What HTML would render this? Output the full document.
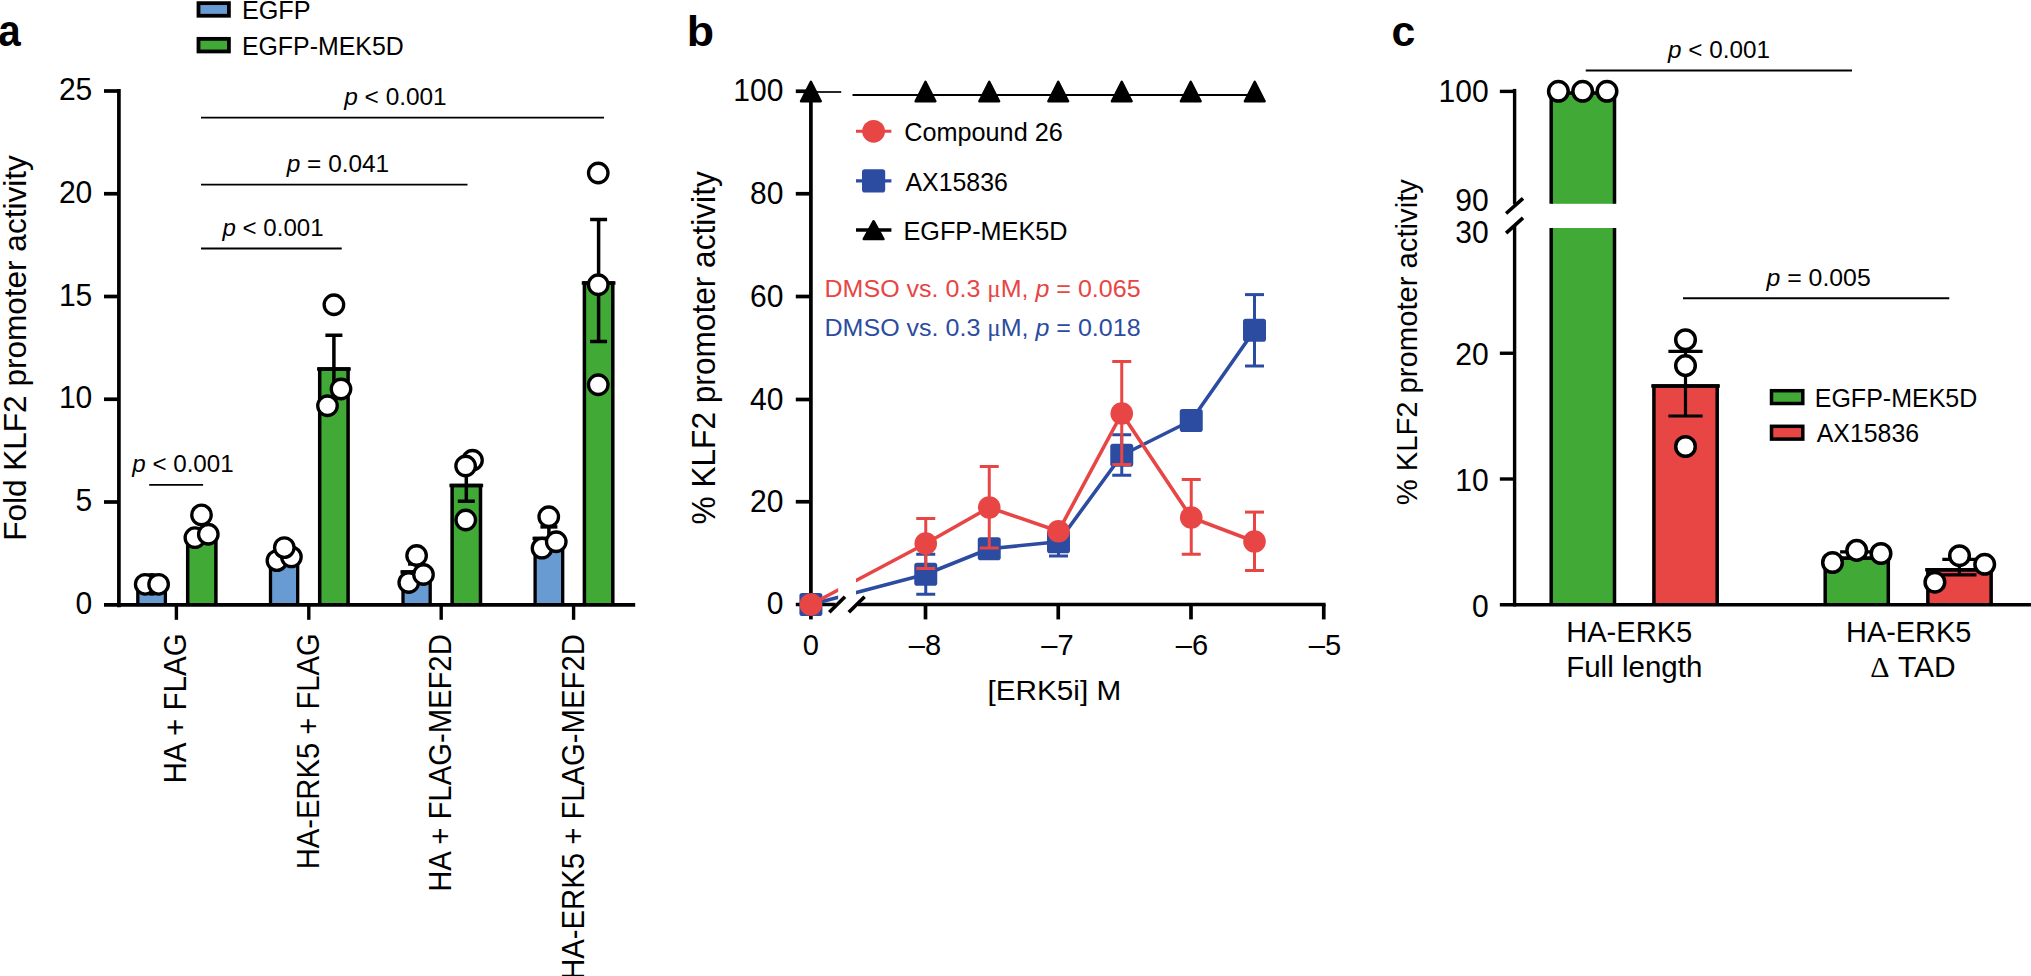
<!DOCTYPE html>
<html lang="en"><head><meta charset="utf-8"><title>Figure</title>
<style>html,body{margin:0;padding:0;background:#fff}body{width:2031px;height:976px;overflow:hidden}svg{display:block}text{font-family:"Liberation Sans",sans-serif}</style></head>
<body>
<svg width="2031" height="976" viewBox="0 0 2031 976" role="img" aria-label="KLF2 promoter activity figure, panels a to c">
<path d="M137.80,604.90 V584.00 H165.40 V604.90" fill="#689BD2" stroke="#000" stroke-width="3.3" stroke-linejoin="miter"/>
<line x1="135.25" y1="584.00" x2="167.95" y2="584.00" stroke="#000" stroke-width="3.3" stroke-linecap="butt"/>
<path d="M187.70,604.90 V535.00 H215.90 V604.90" fill="#41AA37" stroke="#000" stroke-width="3.5" stroke-linejoin="miter"/>
<line x1="185.05" y1="535.00" x2="218.55" y2="535.00" stroke="#000" stroke-width="3.5" stroke-linecap="butt"/>
<path d="M270.50,604.90 V555.00 H297.70 V604.90" fill="#689BD2" stroke="#000" stroke-width="3.3" stroke-linejoin="miter"/>
<line x1="267.95" y1="555.00" x2="300.25" y2="555.00" stroke="#000" stroke-width="3.3" stroke-linecap="butt"/>
<path d="M319.70,604.90 V369.00 H348.10 V604.90" fill="#41AA37" stroke="#000" stroke-width="3.5" stroke-linejoin="miter"/>
<line x1="317.05" y1="369.00" x2="350.75" y2="369.00" stroke="#000" stroke-width="3.5" stroke-linecap="butt"/>
<path d="M403.00,604.90 V572.00 H430.20 V604.90" fill="#689BD2" stroke="#000" stroke-width="3.3" stroke-linejoin="miter"/>
<line x1="400.45" y1="572.00" x2="432.75" y2="572.00" stroke="#000" stroke-width="3.3" stroke-linecap="butt"/>
<path d="M452.10,604.90 V485.40 H480.50 V604.90" fill="#41AA37" stroke="#000" stroke-width="3.5" stroke-linejoin="miter"/>
<line x1="449.45" y1="485.40" x2="483.15" y2="485.40" stroke="#000" stroke-width="3.5" stroke-linecap="butt"/>
<path d="M535.10,604.90 V538.30 H562.70 V604.90" fill="#689BD2" stroke="#000" stroke-width="3.3" stroke-linejoin="miter"/>
<line x1="532.55" y1="538.30" x2="565.25" y2="538.30" stroke="#000" stroke-width="3.3" stroke-linecap="butt"/>
<path d="M584.40,604.90 V283.00 H612.80 V604.90" fill="#41AA37" stroke="#000" stroke-width="3.5" stroke-linejoin="miter"/>
<line x1="581.75" y1="283.00" x2="615.45" y2="283.00" stroke="#000" stroke-width="3.5" stroke-linecap="butt"/>
<line x1="284.10" y1="551.00" x2="284.10" y2="559.00" stroke="#000" stroke-width="3.5" stroke-linecap="butt"/>
<line x1="275.60" y1="551.00" x2="292.60" y2="551.00" stroke="#000" stroke-width="3.5" stroke-linecap="butt"/>
<line x1="275.60" y1="559.00" x2="292.60" y2="559.00" stroke="#000" stroke-width="3.5" stroke-linecap="butt"/>
<line x1="333.90" y1="335.25" x2="333.90" y2="402.75" stroke="#000" stroke-width="3.5" stroke-linecap="butt"/>
<line x1="325.40" y1="335.25" x2="342.40" y2="335.25" stroke="#000" stroke-width="3.5" stroke-linecap="butt"/>
<line x1="416.60" y1="564.00" x2="416.60" y2="580.00" stroke="#000" stroke-width="3.5" stroke-linecap="butt"/>
<line x1="408.10" y1="564.00" x2="425.10" y2="564.00" stroke="#000" stroke-width="3.5" stroke-linecap="butt"/>
<line x1="408.10" y1="580.00" x2="425.10" y2="580.00" stroke="#000" stroke-width="3.5" stroke-linecap="butt"/>
<line x1="466.30" y1="469.60" x2="466.30" y2="501.20" stroke="#000" stroke-width="3.5" stroke-linecap="butt"/>
<line x1="457.80" y1="469.60" x2="474.80" y2="469.60" stroke="#000" stroke-width="3.5" stroke-linecap="butt"/>
<line x1="457.80" y1="501.20" x2="474.80" y2="501.20" stroke="#000" stroke-width="3.5" stroke-linecap="butt"/>
<line x1="548.90" y1="526.90" x2="548.90" y2="549.50" stroke="#000" stroke-width="3.5" stroke-linecap="butt"/>
<line x1="540.40" y1="526.90" x2="557.40" y2="526.90" stroke="#000" stroke-width="3.5" stroke-linecap="butt"/>
<line x1="540.40" y1="549.50" x2="557.40" y2="549.50" stroke="#000" stroke-width="3.5" stroke-linecap="butt"/>
<line x1="598.60" y1="219.50" x2="598.60" y2="341.50" stroke="#000" stroke-width="3.5" stroke-linecap="butt"/>
<line x1="590.10" y1="219.50" x2="607.10" y2="219.50" stroke="#000" stroke-width="3.5" stroke-linecap="butt"/>
<line x1="590.10" y1="341.50" x2="607.10" y2="341.50" stroke="#000" stroke-width="3.5" stroke-linecap="butt"/>
<line x1="118.90" y1="89.10" x2="118.90" y2="607.35" stroke="#000" stroke-width="3.7" stroke-linecap="butt"/>
<line x1="104.00" y1="604.90" x2="635.20" y2="604.90" stroke="#000" stroke-width="3.7" stroke-linecap="butt"/>
<line x1="104.00" y1="91.00" x2="119.00" y2="91.00" stroke="#000" stroke-width="3.7" stroke-linecap="butt"/>
<line x1="104.00" y1="193.75" x2="119.00" y2="193.75" stroke="#000" stroke-width="3.7" stroke-linecap="butt"/>
<line x1="104.00" y1="296.50" x2="119.00" y2="296.50" stroke="#000" stroke-width="3.7" stroke-linecap="butt"/>
<line x1="104.00" y1="399.25" x2="119.00" y2="399.25" stroke="#000" stroke-width="3.7" stroke-linecap="butt"/>
<line x1="104.00" y1="502.00" x2="119.00" y2="502.00" stroke="#000" stroke-width="3.7" stroke-linecap="butt"/>
<line x1="176.40" y1="604.90" x2="176.40" y2="619.80" stroke="#000" stroke-width="3.4" stroke-linecap="butt"/>
<line x1="308.80" y1="604.90" x2="308.80" y2="619.80" stroke="#000" stroke-width="3.4" stroke-linecap="butt"/>
<line x1="441.20" y1="604.90" x2="441.20" y2="619.80" stroke="#000" stroke-width="3.4" stroke-linecap="butt"/>
<line x1="573.60" y1="604.90" x2="573.60" y2="619.80" stroke="#000" stroke-width="3.4" stroke-linecap="butt"/>
<circle cx="151.90" cy="584.30" r="9.75" fill="#fff" stroke="#000" stroke-width="3.3"/>
<circle cx="145.20" cy="584.30" r="9.75" fill="#fff" stroke="#000" stroke-width="3.3"/>
<circle cx="158.60" cy="584.30" r="9.75" fill="#fff" stroke="#000" stroke-width="3.3"/>
<circle cx="201.50" cy="514.90" r="9.75" fill="#fff" stroke="#000" stroke-width="3.3"/>
<circle cx="194.90" cy="537.70" r="9.75" fill="#fff" stroke="#000" stroke-width="3.3"/>
<circle cx="208.30" cy="534.25" r="9.75" fill="#fff" stroke="#000" stroke-width="3.3"/>
<circle cx="276.90" cy="560.60" r="9.75" fill="#fff" stroke="#000" stroke-width="3.3"/>
<circle cx="291.40" cy="556.90" r="9.75" fill="#fff" stroke="#000" stroke-width="3.3"/>
<circle cx="284.30" cy="547.60" r="9.75" fill="#fff" stroke="#000" stroke-width="3.3"/>
<circle cx="333.90" cy="304.75" r="9.75" fill="#fff" stroke="#000" stroke-width="3.3"/>
<circle cx="341.00" cy="389.00" r="9.75" fill="#fff" stroke="#000" stroke-width="3.3"/>
<circle cx="327.50" cy="405.75" r="9.75" fill="#fff" stroke="#000" stroke-width="3.3"/>
<circle cx="416.60" cy="555.50" r="9.75" fill="#fff" stroke="#000" stroke-width="3.3"/>
<circle cx="408.75" cy="582.50" r="9.75" fill="#fff" stroke="#000" stroke-width="3.3"/>
<circle cx="423.50" cy="574.50" r="9.75" fill="#fff" stroke="#000" stroke-width="3.3"/>
<circle cx="472.50" cy="460.25" r="9.75" fill="#fff" stroke="#000" stroke-width="3.3"/>
<circle cx="465.60" cy="466.00" r="9.75" fill="#fff" stroke="#000" stroke-width="3.3"/>
<circle cx="465.75" cy="520.00" r="9.75" fill="#fff" stroke="#000" stroke-width="3.3"/>
<circle cx="548.75" cy="516.75" r="9.75" fill="#fff" stroke="#000" stroke-width="3.3"/>
<circle cx="542.00" cy="548.20" r="9.75" fill="#fff" stroke="#000" stroke-width="3.3"/>
<circle cx="556.25" cy="541.75" r="9.75" fill="#fff" stroke="#000" stroke-width="3.3"/>
<circle cx="598.25" cy="173.00" r="9.75" fill="#fff" stroke="#000" stroke-width="3.3"/>
<circle cx="598.25" cy="284.75" r="9.75" fill="#fff" stroke="#000" stroke-width="3.3"/>
<circle cx="598.25" cy="384.75" r="9.75" fill="#fff" stroke="#000" stroke-width="3.3"/>
<line x1="201.00" y1="117.60" x2="604.00" y2="117.60" stroke="#000" stroke-width="1.9" stroke-linecap="butt"/>
<line x1="201.00" y1="184.60" x2="467.50" y2="184.60" stroke="#000" stroke-width="1.9" stroke-linecap="butt"/>
<line x1="201.00" y1="248.50" x2="341.75" y2="248.50" stroke="#000" stroke-width="1.9" stroke-linecap="butt"/>
<line x1="149.20" y1="484.90" x2="203.10" y2="484.90" stroke="#000" stroke-width="1.9" stroke-linecap="butt"/>
<rect x="198.50" y="3.15" width="30.40" height="12.60" fill="#689BD2" stroke="#000" stroke-width="3.8" rx="0"/>
<rect x="198.50" y="38.85" width="30.40" height="12.60" fill="#41AA37" stroke="#000" stroke-width="3.8" rx="0"/>
<line x1="810.90" y1="92.00" x2="841.25" y2="92.00" stroke="#000" stroke-width="1.7" stroke-linecap="butt"/>
<line x1="852.50" y1="95.00" x2="1254.75" y2="95.00" stroke="#000" stroke-width="2.1" stroke-linecap="butt"/>
<clipPath id="gapclip"><rect x="0" y="0" width="838.15" height="976"/><rect x="856" y="0" width="1200" height="976"/></clipPath>
<line x1="810.90" y1="89.40" x2="810.90" y2="606.35" stroke="#000" stroke-width="3.7" stroke-linecap="butt"/>
<line x1="795.80" y1="91.25" x2="810.90" y2="91.25" stroke="#000" stroke-width="3.7" stroke-linecap="butt"/>
<line x1="795.80" y1="193.75" x2="810.90" y2="193.75" stroke="#000" stroke-width="3.7" stroke-linecap="butt"/>
<line x1="795.80" y1="296.50" x2="810.90" y2="296.50" stroke="#000" stroke-width="3.7" stroke-linecap="butt"/>
<line x1="795.80" y1="399.50" x2="810.90" y2="399.50" stroke="#000" stroke-width="3.7" stroke-linecap="butt"/>
<line x1="795.80" y1="501.75" x2="810.90" y2="501.75" stroke="#000" stroke-width="3.7" stroke-linecap="butt"/>
<line x1="795.80" y1="604.50" x2="835.60" y2="604.50" stroke="#000" stroke-width="3.7" stroke-linecap="butt"/>
<line x1="858.00" y1="604.50" x2="1325.60" y2="604.50" stroke="#000" stroke-width="3.7" stroke-linecap="butt"/>
<line x1="810.90" y1="604.50" x2="810.90" y2="619.40" stroke="#000" stroke-width="3.7" stroke-linecap="butt"/>
<line x1="925.50" y1="604.50" x2="925.50" y2="619.40" stroke="#000" stroke-width="3.7" stroke-linecap="butt"/>
<line x1="1058.25" y1="604.50" x2="1058.25" y2="619.40" stroke="#000" stroke-width="3.7" stroke-linecap="butt"/>
<line x1="1191.00" y1="604.50" x2="1191.00" y2="619.40" stroke="#000" stroke-width="3.7" stroke-linecap="butt"/>
<line x1="1323.75" y1="604.50" x2="1323.75" y2="619.40" stroke="#000" stroke-width="3.7" stroke-linecap="butt"/>
<line x1="829.30" y1="612.30" x2="845.00" y2="596.70" stroke="#000" stroke-width="3.7" stroke-linecap="butt"/>
<line x1="848.80" y1="612.30" x2="864.60" y2="596.70" stroke="#000" stroke-width="3.7" stroke-linecap="butt"/>
<polygon points="810.90,81.70 820.80,101.20 801.00,101.20" fill="#000" stroke="#000" stroke-width="2.4" stroke-linejoin="round"/>
<polygon points="925.50,81.70 935.40,101.20 915.60,101.20" fill="#000" stroke="#000" stroke-width="2.4" stroke-linejoin="round"/>
<polygon points="989.25,81.70 999.15,101.20 979.35,101.20" fill="#000" stroke="#000" stroke-width="2.4" stroke-linejoin="round"/>
<polygon points="1058.25,81.70 1068.15,101.20 1048.35,101.20" fill="#000" stroke="#000" stroke-width="2.4" stroke-linejoin="round"/>
<polygon points="1121.75,81.70 1131.65,101.20 1111.85,101.20" fill="#000" stroke="#000" stroke-width="2.4" stroke-linejoin="round"/>
<polygon points="1190.75,81.70 1200.65,101.20 1180.85,101.20" fill="#000" stroke="#000" stroke-width="2.4" stroke-linejoin="round"/>
<polygon points="1254.75,81.70 1264.65,101.20 1244.85,101.20" fill="#000" stroke="#000" stroke-width="2.4" stroke-linejoin="round"/>
<line x1="925.75" y1="554.25" x2="925.75" y2="594.25" stroke="#2B4CA0" stroke-width="3.0" stroke-linecap="butt"/>
<line x1="916.25" y1="554.25" x2="935.25" y2="554.25" stroke="#2B4CA0" stroke-width="3.0" stroke-linecap="butt"/>
<line x1="916.25" y1="594.25" x2="935.25" y2="594.25" stroke="#2B4CA0" stroke-width="3.0" stroke-linecap="butt"/>
<line x1="989.25" y1="543.00" x2="989.25" y2="554.50" stroke="#2B4CA0" stroke-width="3.0" stroke-linecap="butt"/>
<line x1="979.75" y1="543.00" x2="998.75" y2="543.00" stroke="#2B4CA0" stroke-width="3.0" stroke-linecap="butt"/>
<line x1="979.75" y1="554.50" x2="998.75" y2="554.50" stroke="#2B4CA0" stroke-width="3.0" stroke-linecap="butt"/>
<line x1="1058.50" y1="527.50" x2="1058.50" y2="556.00" stroke="#2B4CA0" stroke-width="3.0" stroke-linecap="butt"/>
<line x1="1049.00" y1="527.50" x2="1068.00" y2="527.50" stroke="#2B4CA0" stroke-width="3.0" stroke-linecap="butt"/>
<line x1="1049.00" y1="556.00" x2="1068.00" y2="556.00" stroke="#2B4CA0" stroke-width="3.0" stroke-linecap="butt"/>
<line x1="1121.75" y1="434.75" x2="1121.75" y2="475.25" stroke="#2B4CA0" stroke-width="3.0" stroke-linecap="butt"/>
<line x1="1112.25" y1="434.75" x2="1131.25" y2="434.75" stroke="#2B4CA0" stroke-width="3.0" stroke-linecap="butt"/>
<line x1="1112.25" y1="475.25" x2="1131.25" y2="475.25" stroke="#2B4CA0" stroke-width="3.0" stroke-linecap="butt"/>
<line x1="1191.25" y1="414.00" x2="1191.25" y2="427.00" stroke="#2B4CA0" stroke-width="3.0" stroke-linecap="butt"/>
<line x1="1181.75" y1="414.00" x2="1200.75" y2="414.00" stroke="#2B4CA0" stroke-width="3.0" stroke-linecap="butt"/>
<line x1="1181.75" y1="427.00" x2="1200.75" y2="427.00" stroke="#2B4CA0" stroke-width="3.0" stroke-linecap="butt"/>
<line x1="1254.50" y1="294.60" x2="1254.50" y2="366.00" stroke="#2B4CA0" stroke-width="3.0" stroke-linecap="butt"/>
<line x1="1245.00" y1="294.60" x2="1264.00" y2="294.60" stroke="#2B4CA0" stroke-width="3.0" stroke-linecap="butt"/>
<line x1="1245.00" y1="366.00" x2="1264.00" y2="366.00" stroke="#2B4CA0" stroke-width="3.0" stroke-linecap="butt"/>
<polyline clip-path="url(#gapclip)" points="810.90,604.50 925.75,574.25 989.25,548.75 1058.50,541.75 1121.75,455.25 1191.25,420.50 1254.50,330.25" fill="none" stroke="#2B4CA0" stroke-width="3.6" stroke-linejoin="round"/>
<rect x="799.40" y="593.00" width="23.00" height="23.00" fill="#2B4CA0" rx="2.8"/>
<rect x="914.25" y="562.75" width="23.00" height="23.00" fill="#2B4CA0" rx="2.8"/>
<rect x="977.75" y="537.25" width="23.00" height="23.00" fill="#2B4CA0" rx="2.8"/>
<rect x="1047.00" y="530.25" width="23.00" height="23.00" fill="#2B4CA0" rx="2.8"/>
<rect x="1110.25" y="443.75" width="23.00" height="23.00" fill="#2B4CA0" rx="2.8"/>
<rect x="1179.75" y="409.00" width="23.00" height="23.00" fill="#2B4CA0" rx="2.8"/>
<rect x="1243.00" y="318.75" width="23.00" height="23.00" fill="#2B4CA0" rx="2.8"/>
<line x1="925.75" y1="518.50" x2="925.75" y2="568.50" stroke="#E84545" stroke-width="3.0" stroke-linecap="butt"/>
<line x1="916.25" y1="518.50" x2="935.25" y2="518.50" stroke="#E84545" stroke-width="3.0" stroke-linecap="butt"/>
<line x1="916.25" y1="568.50" x2="935.25" y2="568.50" stroke="#E84545" stroke-width="3.0" stroke-linecap="butt"/>
<line x1="989.25" y1="466.50" x2="989.25" y2="548.00" stroke="#E84545" stroke-width="3.0" stroke-linecap="butt"/>
<line x1="979.75" y1="466.50" x2="998.75" y2="466.50" stroke="#E84545" stroke-width="3.0" stroke-linecap="butt"/>
<line x1="979.75" y1="548.00" x2="998.75" y2="548.00" stroke="#E84545" stroke-width="3.0" stroke-linecap="butt"/>
<line x1="1058.50" y1="527.00" x2="1058.50" y2="535.50" stroke="#E84545" stroke-width="3.0" stroke-linecap="butt"/>
<line x1="1049.00" y1="527.00" x2="1068.00" y2="527.00" stroke="#E84545" stroke-width="3.0" stroke-linecap="butt"/>
<line x1="1049.00" y1="535.50" x2="1068.00" y2="535.50" stroke="#E84545" stroke-width="3.0" stroke-linecap="butt"/>
<line x1="1121.75" y1="361.50" x2="1121.75" y2="464.50" stroke="#E84545" stroke-width="3.0" stroke-linecap="butt"/>
<line x1="1112.25" y1="361.50" x2="1131.25" y2="361.50" stroke="#E84545" stroke-width="3.0" stroke-linecap="butt"/>
<line x1="1112.25" y1="464.50" x2="1131.25" y2="464.50" stroke="#E84545" stroke-width="3.0" stroke-linecap="butt"/>
<line x1="1191.25" y1="479.50" x2="1191.25" y2="554.25" stroke="#E84545" stroke-width="3.0" stroke-linecap="butt"/>
<line x1="1181.75" y1="479.50" x2="1200.75" y2="479.50" stroke="#E84545" stroke-width="3.0" stroke-linecap="butt"/>
<line x1="1181.75" y1="554.25" x2="1200.75" y2="554.25" stroke="#E84545" stroke-width="3.0" stroke-linecap="butt"/>
<line x1="1254.50" y1="512.10" x2="1254.50" y2="570.50" stroke="#E84545" stroke-width="3.0" stroke-linecap="butt"/>
<line x1="1245.00" y1="512.10" x2="1264.00" y2="512.10" stroke="#E84545" stroke-width="3.0" stroke-linecap="butt"/>
<line x1="1245.00" y1="570.50" x2="1264.00" y2="570.50" stroke="#E84545" stroke-width="3.0" stroke-linecap="butt"/>
<polyline clip-path="url(#gapclip)" points="810.90,604.50 925.75,543.50 989.25,507.50 1058.50,531.25 1121.75,413.50 1191.25,517.50 1254.50,541.50" fill="none" stroke="#E84545" stroke-width="3.6" stroke-linejoin="round"/>
<circle cx="810.90" cy="604.50" r="11.30" fill="#E84545"/>
<circle cx="925.75" cy="543.50" r="11.30" fill="#E84545"/>
<circle cx="989.25" cy="507.50" r="11.30" fill="#E84545"/>
<circle cx="1058.50" cy="531.25" r="11.30" fill="#E84545"/>
<circle cx="1121.75" cy="413.50" r="11.30" fill="#E84545"/>
<circle cx="1191.25" cy="517.50" r="11.30" fill="#E84545"/>
<circle cx="1254.50" cy="541.50" r="11.30" fill="#E84545"/>
<line x1="856.00" y1="131.30" x2="891.40" y2="131.30" stroke="#E84545" stroke-width="3.1" stroke-linecap="butt"/>
<circle cx="873.60" cy="131.30" r="11.40" fill="#E84545"/>
<line x1="856.00" y1="180.90" x2="891.40" y2="180.90" stroke="#2B4CA0" stroke-width="3.1" stroke-linecap="butt"/>
<rect x="862.00" y="169.30" width="23.20" height="23.20" fill="#2B4CA0" rx="2.8"/>
<line x1="856.00" y1="230.00" x2="891.40" y2="230.00" stroke="#000" stroke-width="3.7" stroke-linecap="butt"/>
<polygon points="873.60,221.20 883.50,239.10 863.70,239.10" fill="#000" stroke="#000" stroke-width="2.4" stroke-linejoin="round"/>
<rect x="1551.2" y="93.0" width="63.3" height="110.80" fill="#41AA37"/>
<path d="M1551.2,203.8 V93.0 H1614.5 V203.8" fill="none" stroke="#000" stroke-width="3.5"/>
<rect x="1551.2" y="228" width="63.3" height="376.80" fill="#41AA37"/>
<path d="M1551.2,604.8 V228.0 M1614.5,228.0 V604.8" fill="none" stroke="#000" stroke-width="3.5"/>
<path d="M1653.90,604.80 V386.00 H1717.20 V604.80" fill="#E84545" stroke="#000" stroke-width="3.5" stroke-linejoin="miter"/>
<line x1="1651.25" y1="386.00" x2="1719.85" y2="386.00" stroke="#000" stroke-width="3.5" stroke-linecap="butt"/>
<path d="M1825.20,604.80 V558.30 H1888.30 V604.80" fill="#41AA37" stroke="#000" stroke-width="3.5" stroke-linejoin="miter"/>
<line x1="1822.55" y1="558.30" x2="1890.95" y2="558.30" stroke="#000" stroke-width="3.5" stroke-linecap="butt"/>
<path d="M1927.85,604.80 V569.85 H1991.15 V604.80" fill="#E84545" stroke="#000" stroke-width="3.5" stroke-linejoin="miter"/>
<line x1="1925.20" y1="569.85" x2="1993.80" y2="569.85" stroke="#000" stroke-width="3.5" stroke-linecap="butt"/>
<line x1="1685.50" y1="351.40" x2="1685.50" y2="416.00" stroke="#000" stroke-width="3.2" stroke-linecap="butt"/>
<line x1="1668.40" y1="351.40" x2="1702.60" y2="351.40" stroke="#000" stroke-width="3.2" stroke-linecap="butt"/>
<line x1="1668.40" y1="416.00" x2="1702.60" y2="416.00" stroke="#000" stroke-width="3.2" stroke-linecap="butt"/>
<line x1="1857.20" y1="551.80" x2="1857.20" y2="558.30" stroke="#000" stroke-width="3.2" stroke-linecap="butt"/>
<line x1="1840.10" y1="551.80" x2="1874.30" y2="551.80" stroke="#000" stroke-width="3.2" stroke-linecap="butt"/>
<line x1="1959.40" y1="559.40" x2="1959.40" y2="574.80" stroke="#000" stroke-width="3.2" stroke-linecap="butt"/>
<line x1="1942.30" y1="559.40" x2="1976.50" y2="559.40" stroke="#000" stroke-width="3.2" stroke-linecap="butt"/>
<line x1="1942.30" y1="574.80" x2="1976.50" y2="574.80" stroke="#000" stroke-width="3.2" stroke-linecap="butt"/>
<line x1="1514.60" y1="88.90" x2="1514.60" y2="204.30" stroke="#000" stroke-width="3.4" stroke-linecap="butt"/>
<line x1="1514.60" y1="226.00" x2="1514.60" y2="606.50" stroke="#000" stroke-width="3.4" stroke-linecap="butt"/>
<line x1="1499.85" y1="91.40" x2="1514.60" y2="91.40" stroke="#000" stroke-width="3.4" stroke-linecap="butt"/>
<line x1="1499.85" y1="353.25" x2="1514.60" y2="353.25" stroke="#000" stroke-width="3.4" stroke-linecap="butt"/>
<line x1="1499.85" y1="479.00" x2="1514.60" y2="479.00" stroke="#000" stroke-width="3.4" stroke-linecap="butt"/>
<line x1="1499.85" y1="604.80" x2="2031.00" y2="604.80" stroke="#000" stroke-width="3.4" stroke-linecap="butt"/>
<line x1="1506.10" y1="213.50" x2="1523.00" y2="198.30" stroke="#000" stroke-width="3.6" stroke-linecap="butt"/>
<line x1="1506.10" y1="233.20" x2="1523.00" y2="217.90" stroke="#000" stroke-width="3.6" stroke-linecap="butt"/>
<circle cx="1558.40" cy="91.30" r="9.80" fill="#fff" stroke="#000" stroke-width="3.5"/>
<circle cx="1582.65" cy="91.30" r="9.80" fill="#fff" stroke="#000" stroke-width="3.5"/>
<circle cx="1607.00" cy="91.30" r="9.80" fill="#fff" stroke="#000" stroke-width="3.5"/>
<circle cx="1685.50" cy="339.70" r="9.80" fill="#fff" stroke="#000" stroke-width="3.5"/>
<circle cx="1685.50" cy="365.60" r="9.80" fill="#fff" stroke="#000" stroke-width="3.5"/>
<circle cx="1685.50" cy="446.50" r="9.80" fill="#fff" stroke="#000" stroke-width="3.5"/>
<circle cx="1832.50" cy="562.50" r="9.80" fill="#fff" stroke="#000" stroke-width="3.5"/>
<circle cx="1856.70" cy="550.40" r="9.80" fill="#fff" stroke="#000" stroke-width="3.5"/>
<circle cx="1881.00" cy="553.50" r="9.80" fill="#fff" stroke="#000" stroke-width="3.5"/>
<circle cx="1934.90" cy="582.20" r="9.80" fill="#fff" stroke="#000" stroke-width="3.5"/>
<circle cx="1959.50" cy="555.70" r="9.80" fill="#fff" stroke="#000" stroke-width="3.5"/>
<circle cx="1984.70" cy="564.30" r="9.80" fill="#fff" stroke="#000" stroke-width="3.5"/>
<line x1="1585.75" y1="70.50" x2="1852.00" y2="70.50" stroke="#000" stroke-width="1.9" stroke-linecap="butt"/>
<line x1="1683.00" y1="298.30" x2="1949.25" y2="298.30" stroke="#000" stroke-width="1.9" stroke-linecap="butt"/>
<rect x="1771.50" y="390.70" width="31.30" height="12.80" fill="#41AA37" stroke="#000" stroke-width="3.5" rx="0"/>
<rect x="1771.50" y="426.30" width="31.30" height="12.80" fill="#E84545" stroke="#000" stroke-width="3.5" rx="0"/>
<text transform="translate(-1.71,46.30) scale(0.9282,1)" font-size="43.50" fill="#000" xml:space="preserve" style="white-space:pre"><tspan font-family='"Liberation Sans", sans-serif' font-weight="bold" font-style="normal">a</tspan></text>
<text transform="translate(241.88,18.80) scale(0.9902,1)" font-size="25.50" fill="#000" xml:space="preserve" style="white-space:pre"><tspan font-family='"Liberation Sans", sans-serif' font-weight="normal" font-style="normal">EGFP</tspan></text>
<text transform="translate(241.91,54.90) scale(0.9764,1)" font-size="25.50" fill="#000" xml:space="preserve" style="white-space:pre"><tspan font-family='"Liberation Sans", sans-serif' font-weight="normal" font-style="normal">EGFP-MEK5D</tspan></text>
<text transform="translate(92.30,100.00) scale(0.9820,1)" text-anchor="end" font-size="30.60" fill="#000" xml:space="preserve" style="white-space:pre"><tspan font-family='"Liberation Sans", sans-serif' font-weight="normal" font-style="normal">25</tspan></text>
<text transform="translate(92.30,202.75) scale(0.9820,1)" text-anchor="end" font-size="30.60" fill="#000" xml:space="preserve" style="white-space:pre"><tspan font-family='"Liberation Sans", sans-serif' font-weight="normal" font-style="normal">20</tspan></text>
<text transform="translate(92.30,305.50) scale(0.9820,1)" text-anchor="end" font-size="30.60" fill="#000" xml:space="preserve" style="white-space:pre"><tspan font-family='"Liberation Sans", sans-serif' font-weight="normal" font-style="normal">15</tspan></text>
<text transform="translate(92.30,408.25) scale(0.9820,1)" text-anchor="end" font-size="30.60" fill="#000" xml:space="preserve" style="white-space:pre"><tspan font-family='"Liberation Sans", sans-serif' font-weight="normal" font-style="normal">10</tspan></text>
<text transform="translate(92.30,511.00) scale(0.9820,1)" text-anchor="end" font-size="30.60" fill="#000" xml:space="preserve" style="white-space:pre"><tspan font-family='"Liberation Sans", sans-serif' font-weight="normal" font-style="normal">5</tspan></text>
<text transform="translate(92.30,613.50) scale(0.9820,1)" text-anchor="end" font-size="30.60" fill="#000" xml:space="preserve" style="white-space:pre"><tspan font-family='"Liberation Sans", sans-serif' font-weight="normal" font-style="normal">0</tspan></text>
<text transform="translate(344.24,105.00) scale(0.9919,1)" font-size="24.60" fill="#000" xml:space="preserve" style="white-space:pre"><tspan font-family='"Liberation Sans", sans-serif' font-weight="normal" font-style="italic">p</tspan><tspan font-family='"Liberation Sans", sans-serif' font-weight="normal" font-style="normal"> &lt; 0.001</tspan></text>
<text transform="translate(286.74,172.00) scale(0.9919,1)" font-size="24.60" fill="#000" xml:space="preserve" style="white-space:pre"><tspan font-family='"Liberation Sans", sans-serif' font-weight="normal" font-style="italic">p</tspan><tspan font-family='"Liberation Sans", sans-serif' font-weight="normal" font-style="normal"> = 0.041</tspan></text>
<text transform="translate(222.48,236.25) scale(0.9797,1)" font-size="24.60" fill="#000" xml:space="preserve" style="white-space:pre"><tspan font-family='"Liberation Sans", sans-serif' font-weight="normal" font-style="italic">p</tspan><tspan font-family='"Liberation Sans", sans-serif' font-weight="normal" font-style="normal"> &lt; 0.001</tspan></text>
<text transform="translate(132.23,471.50) scale(0.9821,1)" font-size="24.60" fill="#000" xml:space="preserve" style="white-space:pre"><tspan font-family='"Liberation Sans", sans-serif' font-weight="normal" font-style="italic">p</tspan><tspan font-family='"Liberation Sans", sans-serif' font-weight="normal" font-style="normal"> &lt; 0.001</tspan></text>
<text transform="translate(26.10,540.82) rotate(-90) scale(0.9856,1)" font-size="32.00" fill="#000" xml:space="preserve" style="white-space:pre"><tspan font-family='"Liberation Sans", sans-serif' font-weight="normal" font-style="normal">Fold KLF2 promoter activity</tspan></text>
<text transform="translate(186.35,783.62) rotate(-90) scale(0.9356,1)" font-size="31.60" fill="#000" xml:space="preserve" style="white-space:pre"><tspan font-family='"Liberation Sans", sans-serif' font-weight="normal" font-style="normal">HA + FLAG</tspan></text>
<text transform="translate(318.85,869.34) rotate(-90) scale(0.9238,1)" font-size="31.60" fill="#000" xml:space="preserve" style="white-space:pre"><tspan font-family='"Liberation Sans", sans-serif' font-weight="normal" font-style="normal">HA-ERK5 + FLAG</tspan></text>
<text transform="translate(451.35,891.84) rotate(-90) scale(0.9260,1)" font-size="31.60" fill="#000" xml:space="preserve" style="white-space:pre"><tspan font-family='"Liberation Sans", sans-serif' font-weight="normal" font-style="normal">HA + FLAG-MEF2D</tspan></text>
<text transform="translate(583.85,979.84) rotate(-90) scale(0.9266,1)" font-size="31.60" fill="#000" xml:space="preserve" style="white-space:pre"><tspan font-family='"Liberation Sans", sans-serif' font-weight="normal" font-style="normal">HA-ERK5 + FLAG-MEF2D</tspan></text>
<text transform="translate(686.67,45.90) scale(1.0694,1)" font-size="41.80" fill="#000" xml:space="preserve" style="white-space:pre"><tspan font-family='"Liberation Sans", sans-serif' font-weight="bold" font-style="normal">b</tspan></text>
<text transform="translate(783.40,101.25) scale(0.9820,1)" text-anchor="end" font-size="30.60" fill="#000" xml:space="preserve" style="white-space:pre"><tspan font-family='"Liberation Sans", sans-serif' font-weight="normal" font-style="normal">100</tspan></text>
<text transform="translate(783.40,203.75) scale(0.9820,1)" text-anchor="end" font-size="30.60" fill="#000" xml:space="preserve" style="white-space:pre"><tspan font-family='"Liberation Sans", sans-serif' font-weight="normal" font-style="normal">80</tspan></text>
<text transform="translate(783.40,306.50) scale(0.9820,1)" text-anchor="end" font-size="30.60" fill="#000" xml:space="preserve" style="white-space:pre"><tspan font-family='"Liberation Sans", sans-serif' font-weight="normal" font-style="normal">60</tspan></text>
<text transform="translate(783.40,409.50) scale(0.9820,1)" text-anchor="end" font-size="30.60" fill="#000" xml:space="preserve" style="white-space:pre"><tspan font-family='"Liberation Sans", sans-serif' font-weight="normal" font-style="normal">40</tspan></text>
<text transform="translate(783.40,511.75) scale(0.9820,1)" text-anchor="end" font-size="30.60" fill="#000" xml:space="preserve" style="white-space:pre"><tspan font-family='"Liberation Sans", sans-serif' font-weight="normal" font-style="normal">20</tspan></text>
<text transform="translate(783.40,614.25) scale(0.9820,1)" text-anchor="end" font-size="30.60" fill="#000" xml:space="preserve" style="white-space:pre"><tspan font-family='"Liberation Sans", sans-serif' font-weight="normal" font-style="normal">0</tspan></text>
<text transform="translate(904.24,141.00) scale(1.0097,1)" font-size="25.00" fill="#000" xml:space="preserve" style="white-space:pre"><tspan font-family='"Liberation Sans", sans-serif' font-weight="normal" font-style="normal">Compound 26</tspan></text>
<text transform="translate(905.50,190.50) scale(0.9951,1)" font-size="25.00" fill="#000" xml:space="preserve" style="white-space:pre"><tspan font-family='"Liberation Sans", sans-serif' font-weight="normal" font-style="normal">AX15836</tspan></text>
<text transform="translate(903.48,239.50) scale(1.0094,1)" font-size="25.00" fill="#000" xml:space="preserve" style="white-space:pre"><tspan font-family='"Liberation Sans", sans-serif' font-weight="normal" font-style="normal">EGFP-MEK5D</tspan></text>
<text transform="translate(824.50,297.20) scale(1.0262,1)" font-size="24.40" fill="#E84545" xml:space="preserve" style="white-space:pre"><tspan font-family='"Liberation Sans", sans-serif' font-weight="normal" font-style="normal">DMSO vs. 0.3 </tspan><tspan font-family='"Liberation Serif", serif' font-weight="normal" font-style="normal">μ</tspan><tspan font-family='"Liberation Sans", sans-serif' font-weight="normal" font-style="normal">M, </tspan><tspan font-family='"Liberation Sans", sans-serif' font-weight="normal" font-style="italic">p</tspan><tspan font-family='"Liberation Sans", sans-serif' font-weight="normal" font-style="normal"> = 0.065</tspan></text>
<text transform="translate(824.50,336.20) scale(1.0262,1)" font-size="24.40" fill="#2B4CA0" xml:space="preserve" style="white-space:pre"><tspan font-family='"Liberation Sans", sans-serif' font-weight="normal" font-style="normal">DMSO vs. 0.3 </tspan><tspan font-family='"Liberation Serif", serif' font-weight="normal" font-style="normal">μ</tspan><tspan font-family='"Liberation Sans", sans-serif' font-weight="normal" font-style="normal">M, </tspan><tspan font-family='"Liberation Sans", sans-serif' font-weight="normal" font-style="italic">p</tspan><tspan font-family='"Liberation Sans", sans-serif' font-weight="normal" font-style="normal"> = 0.018</tspan></text>
<text transform="translate(810.75,654.70) scale(0.9700,1)" text-anchor="middle" font-size="30.00" fill="#000" xml:space="preserve" style="white-space:pre"><tspan font-family='"Liberation Sans", sans-serif' font-weight="normal" font-style="normal">0</tspan></text>
<text transform="translate(925.00,654.70) scale(0.9700,1)" text-anchor="middle" font-size="30.00" fill="#000" xml:space="preserve" style="white-space:pre"><tspan font-family='"Liberation Sans", sans-serif' font-weight="normal" font-style="normal">–8</tspan></text>
<text transform="translate(1057.50,654.70) scale(0.9700,1)" text-anchor="middle" font-size="30.00" fill="#000" xml:space="preserve" style="white-space:pre"><tspan font-family='"Liberation Sans", sans-serif' font-weight="normal" font-style="normal">–7</tspan></text>
<text transform="translate(1192.00,654.70) scale(0.9700,1)" text-anchor="middle" font-size="30.00" fill="#000" xml:space="preserve" style="white-space:pre"><tspan font-family='"Liberation Sans", sans-serif' font-weight="normal" font-style="normal">–6</tspan></text>
<text transform="translate(1325.00,654.70) scale(0.9700,1)" text-anchor="middle" font-size="30.00" fill="#000" xml:space="preserve" style="white-space:pre"><tspan font-family='"Liberation Sans", sans-serif' font-weight="normal" font-style="normal">–5</tspan></text>
<text transform="translate(987.42,700.00) scale(1.0425,1)" font-size="28.50" fill="#000" xml:space="preserve" style="white-space:pre"><tspan font-family='"Liberation Sans", sans-serif' font-weight="normal" font-style="normal">[ERK5i] M</tspan></text>
<text transform="translate(715.30,524.47) rotate(-90) scale(0.9794,1)" font-size="32.30" fill="#000" xml:space="preserve" style="white-space:pre"><tspan font-family='"Liberation Sans", sans-serif' font-weight="normal" font-style="normal">% KLF2 promoter activity</tspan></text>
<text transform="translate(1391.44,46.20) scale(0.9943,1)" font-size="43.00" fill="#000" xml:space="preserve" style="white-space:pre"><tspan font-family='"Liberation Sans", sans-serif' font-weight="bold" font-style="normal">c</tspan></text>
<text transform="translate(1488.70,101.90) scale(0.9820,1)" text-anchor="end" font-size="30.60" fill="#000" xml:space="preserve" style="white-space:pre"><tspan font-family='"Liberation Sans", sans-serif' font-weight="normal" font-style="normal">100</tspan></text>
<text transform="translate(1488.70,211.20) scale(0.9820,1)" text-anchor="end" font-size="30.60" fill="#000" xml:space="preserve" style="white-space:pre"><tspan font-family='"Liberation Sans", sans-serif' font-weight="normal" font-style="normal">90</tspan></text>
<text transform="translate(1488.70,243.00) scale(0.9820,1)" text-anchor="end" font-size="30.60" fill="#000" xml:space="preserve" style="white-space:pre"><tspan font-family='"Liberation Sans", sans-serif' font-weight="normal" font-style="normal">30</tspan></text>
<text transform="translate(1488.70,364.60) scale(0.9820,1)" text-anchor="end" font-size="30.60" fill="#000" xml:space="preserve" style="white-space:pre"><tspan font-family='"Liberation Sans", sans-serif' font-weight="normal" font-style="normal">20</tspan></text>
<text transform="translate(1488.70,490.50) scale(0.9820,1)" text-anchor="end" font-size="30.60" fill="#000" xml:space="preserve" style="white-space:pre"><tspan font-family='"Liberation Sans", sans-serif' font-weight="normal" font-style="normal">10</tspan></text>
<text transform="translate(1488.70,617.10) scale(0.9820,1)" text-anchor="end" font-size="30.60" fill="#000" xml:space="preserve" style="white-space:pre"><tspan font-family='"Liberation Sans", sans-serif' font-weight="normal" font-style="normal">0</tspan></text>
<text transform="translate(1667.99,58.00) scale(0.9870,1)" font-size="24.60" fill="#000" xml:space="preserve" style="white-space:pre"><tspan font-family='"Liberation Sans", sans-serif' font-weight="normal" font-style="italic">p</tspan><tspan font-family='"Liberation Sans", sans-serif' font-weight="normal" font-style="normal"> &lt; 0.001</tspan></text>
<text transform="translate(1766.50,286.00) scale(1.0090,1)" font-size="24.60" fill="#000" xml:space="preserve" style="white-space:pre"><tspan font-family='"Liberation Sans", sans-serif' font-weight="normal" font-style="italic">p</tspan><tspan font-family='"Liberation Sans", sans-serif' font-weight="normal" font-style="normal"> = 0.005</tspan></text>
<text transform="translate(1814.75,407.00) scale(1.0000,1)" font-size="25.00" fill="#000" xml:space="preserve" style="white-space:pre"><tspan font-family='"Liberation Sans", sans-serif' font-weight="normal" font-style="normal">EGFP-MEK5D</tspan></text>
<text transform="translate(1816.75,441.60) scale(0.9951,1)" font-size="25.00" fill="#000" xml:space="preserve" style="white-space:pre"><tspan font-family='"Liberation Sans", sans-serif' font-weight="normal" font-style="normal">AX15836</tspan></text>
<text transform="translate(1566.17,641.75) scale(0.9897,1)" font-size="29.40" fill="#000" xml:space="preserve" style="white-space:pre"><tspan font-family='"Liberation Sans", sans-serif' font-weight="normal" font-style="normal">HA-ERK5</tspan></text>
<text transform="translate(1566.14,676.75) scale(1.0044,1)" font-size="29.40" fill="#000" xml:space="preserve" style="white-space:pre"><tspan font-family='"Liberation Sans", sans-serif' font-weight="normal" font-style="normal">Full length</tspan></text>
<text transform="translate(1845.99,641.75) scale(0.9841,1)" font-size="29.40" fill="#000" xml:space="preserve" style="white-space:pre"><tspan font-family='"Liberation Sans", sans-serif' font-weight="normal" font-style="normal">HA-ERK5</tspan></text>
<text transform="translate(1870.30,676.75) scale(1.0198,1)" font-size="29.40" fill="#000" xml:space="preserve" style="white-space:pre"><tspan font-family='"Liberation Serif", serif' font-weight="normal" font-style="normal">Δ</tspan><tspan font-family='"Liberation Sans", sans-serif' font-weight="normal" font-style="normal"> TAD</tspan></text>
<text transform="translate(1417.25,505.37) rotate(-90) scale(0.9802,1)" font-size="29.80" fill="#000" xml:space="preserve" style="white-space:pre"><tspan font-family='"Liberation Sans", sans-serif' font-weight="normal" font-style="normal">% KLF2 promoter activity</tspan></text>
</svg>
</body></html>
